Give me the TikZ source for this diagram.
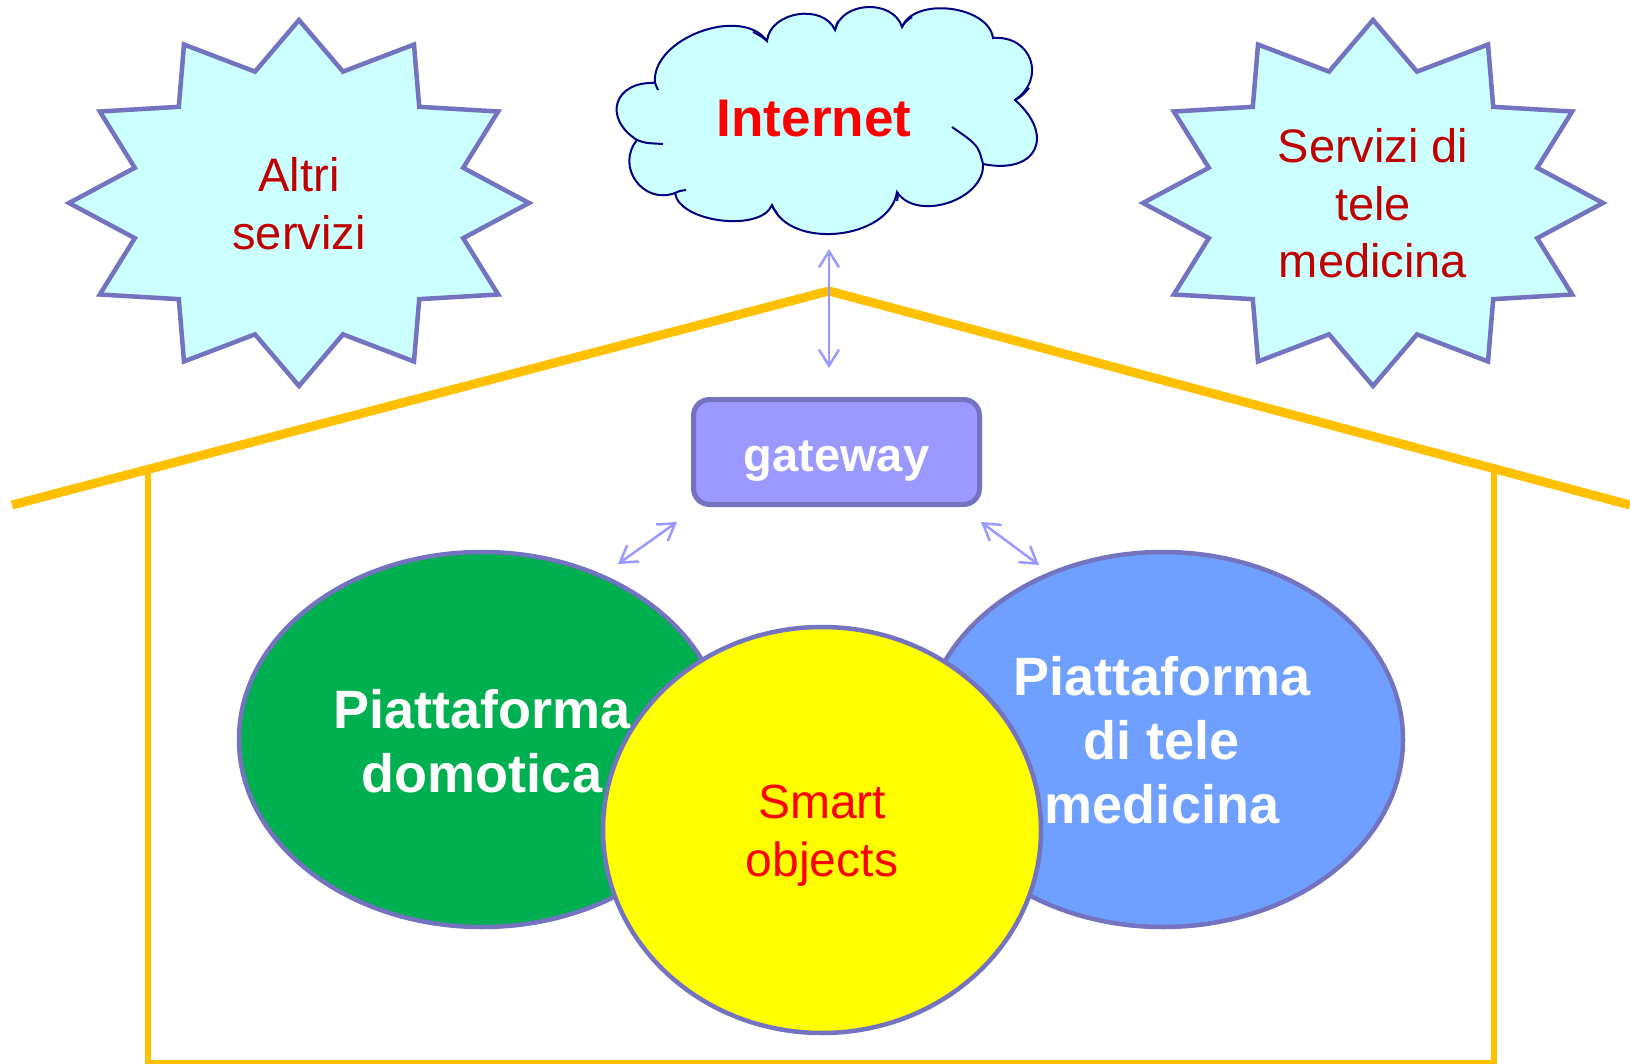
\documentclass[tikz,border=0pt]{standalone}
\usepackage{fontspec}
\setmainfont{Liberation Sans}
\usetikzlibrary{shapes.geometric,arrows.meta}
\definecolor{starfill}{HTML}{CCFFFF}
\definecolor{edgecol}{HTML}{7373BF}
\definecolor{darkred}{HTML}{C00000}
\definecolor{brightred}{HTML}{FF0000}
\definecolor{cloudline}{HTML}{000080}
\definecolor{gwfill}{HTML}{9999FF}
\definecolor{arrowcol}{HTML}{9999FF}
\definecolor{housecol}{HTML}{FFC000}
\definecolor{greenfill}{HTML}{00B050}
\definecolor{bluefill}{HTML}{70A0FF}
\definecolor{yellowfill}{HTML}{FFFF00}
\begin{document}
\begin{tikzpicture}[x=1pt,y=-1pt,
  starshape/.style={draw=edgecol, fill=starfill, line width=4.5pt, line join=miter},
  startext/.style={text=darkred, align=center, inner sep=0pt, font=\fontsize{47}{57.5}\selectfont},
  cloudshape/.style={draw=cloudline, fill=starfill, line width=2pt},
  cloudtail/.style={draw=cloudline, line width=2pt},
  blob/.style={ellipse, draw=edgecol, line width=4.5pt, inner sep=0pt},
  bigwhite/.style={text=white, align=center, inner sep=0pt, font=\bfseries\fontsize{54}{63.5}\selectfont},
  link/.style={draw=arrowcol, line width=2.5pt, {Straight Barb[length=16pt,width=20pt]}-{Straight Barb[length=16pt,width=20pt]}},
  roofline/.style={draw=housecol, line width=9pt, line join=miter},
  wallline/.style={draw=housecol, line width=5.5pt}
]
\useasboundingbox (0,0) rectangle (1630,1064);

% house
\draw[wallline] (148,472) -- (148,1063) -- (1494,1063) -- (1494,472);
\draw[roofline] (12,505) -- (829,291) -- (1630,505);

% stars
\draw[starshape] (529,203) \foreach \i in {1,...,23}{
  -- ({299+(230-60*mod(\i,2))*cos(15*\i)},{203+(183-47*mod(\i,2))*sin(15*\i)}) } -- cycle;
\draw[starshape] (1603,203) \foreach \i in {1,...,23}{
  -- ({1373+(230-60*mod(\i,2))*cos(15*\i)},{203+(183-47*mod(\i,2))*sin(15*\i)}) } -- cycle;
\node[startext] (altri) at (299,209) {\strut Altri\\servizi\strut};
\node[startext] (servizi) at (1373,209) {\strut Servizi di\\tele\\medicina\strut};

% cloud
\coordinate (c1) at (655,83);
\coordinate (c2) at (767,41);
\coordinate (c3) at (835,30);
\coordinate (c4) at (902,27);
\coordinate (c5) at (993,38);
\coordinate (c6) at (1015,100);
\coordinate (c7) at (983,164);
\coordinate (c8) at (897,192);
\coordinate (c9) at (772,205);
\coordinate (c10) at (675,193);
\coordinate (c11) at (637,140);
\draw[cloudshape] (c1)
  to[bend left=75, looseness=0.95] (c2)
  to[bend left=75, looseness=1.1] (c3)
  to[bend left=75, looseness=1.13] (c4)
  to[bend left=75, looseness=0.92] (c5)
  to[bend left=75, looseness=1.5] (c6)
  to[bend left=75, looseness=1.95] (c7)
  to[bend left=75, looseness=1.02] (c8)
  to[bend left=75, looseness=0.99] (c9)
  to[bend left=75, looseness=0.78] (c10)
  to[bend left=75, looseness=1.34] (c11)
  to[bend left=75, looseness=1.76] (c1) -- cycle;
\draw[cloudtail] (c11) .. controls (645,143) .. (663,144);
\draw[cloudtail] (c10) .. controls (679,191) .. (686,190);
\draw[cloudtail] (c9) .. controls (773,208) .. (777,213);
\draw[cloudtail] (c8) .. controls (898,196) .. (897,201);
\draw[cloudtail] (c7) .. controls (978,145) .. (952,127);
\draw[cloudtail] (c6) .. controls (1022,96) .. (1029,88);
\draw[cloudtail] (c4) .. controls (905,22) .. (912,17);
\draw[cloudtail] (c3) .. controls (836,26) .. (838,21);
\draw[cloudtail] (c2) .. controls (761,36) .. (753,32);
\draw[cloudtail] (c1) .. controls (656,86) .. (658,90);
\node[text=brightred, anchor=base, inner sep=0pt, font=\bfseries\fontsize{53}{60}\selectfont] (internet) at (814,137) {Internet};

% arrows
\coordinate (a1) at (829,249);
\coordinate (a2) at (829,368);
\coordinate (b1) at (677,522);
\coordinate (b2) at (618,564);
\coordinate (d1) at (981,522);
\coordinate (d2) at (1039,565);
\draw[link] (a1) -- (a2);
\draw[link] (b1) -- (b2);
\draw[link] (d1) -- (d2);

% gateway
\node[draw=edgecol, fill=gwfill, line width=5pt, rounded corners=16pt,
  minimum width=286pt, minimum height=105pt, inner sep=0pt,
  text=white, font=\bfseries\fontsize{47}{56}\selectfont,
  text height=38pt, text depth=0pt] (gw) at (836.5,452) {gateway};

% platforms
\node[blob, fill=greenfill, minimum width=486pt, minimum height=375pt] (domo) at (482,739.5) {};
\node[blob, fill=bluefill, minimum width=480pt, minimum height=375pt] (tele) at (1163,739.5) {};
\node[blob, fill=yellowfill, minimum width=438pt, minimum height=406pt] (smart) at (822,830) {};
\node[bigwhite] (domotxt) at (482,748) {\strut Piattaforma\\domotica\strut};
\node[bigwhite, font=\bfseries\fontsize{54}{64}\selectfont] (teletxt) at (1162,747) {\strut Piattaforma\\di tele\\medicina\strut};
\node[text=brightred, align=center, inner sep=0pt, font=\fontsize{48}{58}\selectfont] (smarttxt) at (822,836) {\strut Smart\\objects\strut};
\end{tikzpicture}
\end{document}
